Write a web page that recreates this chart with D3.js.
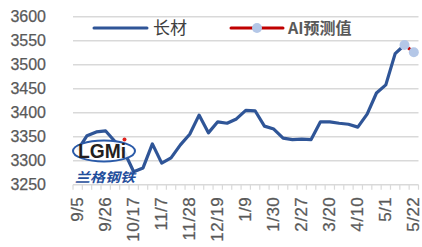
<!DOCTYPE html>
<html>
<head>
<meta charset="utf-8">
<script src="https://cdn.jsdelivr.net/npm/d3@7"></script>
<style>
  body { margin: 0; background: #fff; }
  svg { display: block; }
</style>
</head>
<body>
<div id="chart"></div>
<script>
// weekly dates (one week skipped around the spring festival)
var dates = ["9/5","9/12","9/19","9/26","10/3","10/10","10/17","10/24","10/31","11/7",
  "11/14","11/21","11/28","12/5","12/12","12/19","12/26","1/2","1/9","1/16",
  "1/23","1/30","2/13","2/20","2/27","3/6","3/13","3/20","3/27","4/3",
  "4/10","4/17","4/24","5/1","5/8","5/15","5/22"];

var longSteel = [3322,3352,3360,3362,3340,3318,3277,3285,3335,3295,
  3306,3333,3355,3395,3358,3381,3378,3387,3405,3404,
  3372,3366,3347,3344,3345,3344,3381,3381,3378,3376,
  3370,3397,3441,3458,3523,3541];

var aiDates = ["5/15","5/22"];
var aiValues = [3541,3526];

var yTicks = [3250,3300,3350,3400,3450,3500,3550,3600];
var labelEvery = 3;

var width = 422, height = 247;
var margin = {top: 16.7, right: 3.5, bottom: 62.3, left: 73};

var svg = d3.select("#chart").append("svg")
    .attr("width", width)
    .attr("height", height);

var x = d3.scaleBand()
    .domain(dates)
    .range([margin.left, width - margin.right])
    .padding(0);

var y = d3.scaleLinear()
    .domain([3250, 3600])
    .range([height - margin.bottom, margin.top]);

var cx = function(d) { return x(d) + x.bandwidth() / 2; };

// gridlines
svg.append("g")
    .selectAll("line")
    .data(yTicks.slice(1))
    .join("line")
    .attr("x1", margin.left)
    .attr("x2", width - margin.right)
    .attr("y1", function(d) { return y(d); })
    .attr("y2", function(d) { return y(d); })
    .attr("stroke", "#d9d9d9")
    .attr("stroke-width", 1.5);

// y labels
svg.append("g")
    .selectAll("text")
    .data(yTicks)
    .join("text")
    .attr("x", 46)
    .attr("y", function(d) { return y(d); })
    .attr("dy", "0.36em")
    .attr("text-anchor", "end")
    .attr("font-family", "Liberation Sans, Arial, sans-serif")
    .attr("font-size", "16px")
    .attr("fill", "#595959")
    .attr("stroke", "#595959")
    .attr("stroke-width", 0.25)
    .text(function(d) { return d; });

// x axis: line + tick marks between categories
var axisY = y(3250);
svg.append("line")
    .attr("x1", margin.left)
    .attr("x2", width - margin.right)
    .attr("y1", axisY)
    .attr("y2", axisY)
    .attr("stroke", "#d9d9d9")
    .attr("stroke-width", 1.5);

var bounds = dates.map(function(d) { return x(d); }).concat([x(dates[dates.length - 1]) + x.bandwidth()]);
svg.append("g")
    .selectAll("line")
    .data(bounds)
    .join("line")
    .attr("x1", function(d) { return d; })
    .attr("x2", function(d) { return d; })
    .attr("y1", axisY)
    .attr("y2", axisY + 5)
    .attr("stroke", "#d9d9d9")
    .attr("stroke-width", 1.2);

svg.append("g")
    .selectAll("text")
    .data(dates.filter(function(d, i) { return i % labelEvery === 0; }))
    .join("text")
    .attr("transform", function(d) { return "translate(" + (cx(d) + 5) + "," + (axisY + 12) + ") rotate(-90)"; })
    .attr("text-anchor", "end")
    .attr("font-family", "Liberation Sans, Arial, sans-serif")
    .attr("font-size", "17px")
    .attr("letter-spacing", "0.5px")
    .attr("fill", "#595959")
    .attr("stroke", "#595959")
    .attr("stroke-width", 0.25)
    .text(function(d) { return d; });

// long steel line
var line = d3.line()
    .x(function(d) { return cx(d[0]); })
    .y(function(d) { return y(d[1]); });

svg.append("path")
    .datum(longSteel.map(function(v, i) { return [dates[i], v]; }))
    .attr("d", line)
    .attr("fill", "none")
    .attr("stroke", "#2f5597")
    .attr("stroke-width", 3.2)
    .attr("stroke-linejoin", "round");

// AI prediction
var aiData = aiValues.map(function(v, i) { return [aiDates[i], v]; });
svg.append("path")
    .datum(aiData)
    .attr("d", line)
    .attr("fill", "none")
    .attr("stroke", "#c00000")
    .attr("stroke-width", 3);

svg.append("g")
    .selectAll("circle")
    .data(aiData)
    .join("circle")
    .attr("cx", function(d) { return cx(d[0]); })
    .attr("cy", function(d) { return y(d[1]); })
    .attr("r", 5)
    .attr("fill", "#b4c7e7");

// legend
var legend = svg.append("g");
legend.append("line")
    .attr("x1", 94).attr("x2", 147).attr("y1", 28).attr("y2", 28)
    .attr("stroke", "#2f5597").attr("stroke-width", 3).attr("stroke-linecap", "round");
legend.append("text")
    .attr("x", 153).attr("y", 34)
    .attr("font-family", "Noto Sans CJK SC, sans-serif")
    .attr("font-size", "17px")
    .attr("fill", "#404040")
    .text("长材");
legend.append("line")
    .attr("x1", 231).attr("x2", 283).attr("y1", 28).attr("y2", 28)
    .attr("stroke", "#c00000").attr("stroke-width", 3).attr("stroke-linecap", "round");
legend.append("circle")
    .attr("cx", 257).attr("cy", 28).attr("r", 5)
    .attr("fill", "#b4c7e7");
legend.append("text")
    .attr("x", 288).attr("y", 34)
    .attr("font-family", "Noto Sans CJK SC, sans-serif")
    .attr("font-size", "16px")
    .attr("font-weight", "bold")
    .attr("fill", "#595959")
    .text("AI预测值");

// watermark logo
var logo = svg.append("g");
logo.append("ellipse")
    .attr("cx", 104).attr("cy", 151).attr("rx", 31).attr("ry", 10.5)
    .attr("fill", "#ffffff").attr("fill-opacity", 0.9)
    .attr("stroke", "#2a5aa8").attr("stroke-width", 2);
logo.append("text")
    .attr("x", 78).attr("y", 158)
    .attr("textLength", 48)
    .attr("lengthAdjust", "spacingAndGlyphs")
    .attr("font-family", "Liberation Sans, Arial, sans-serif")
    .attr("font-size", "20px")
    .attr("font-weight", "bold")
    .attr("fill", "#231f20")
    .text("LGMi");
logo.append("circle")
    .attr("cx", 124.5).attr("cy", 139.5).attr("r", 2)
    .attr("fill", "#e0201b");
logo.append("text")
    .attr("x", 75).attr("y", 182)
    .attr("textLength", 60)
    .attr("lengthAdjust", "spacingAndGlyphs")
    .attr("font-family", "Noto Sans CJK SC, sans-serif")
    .attr("font-size", "13px")
    .attr("font-weight", "bold")
    .attr("font-style", "italic")
    .attr("fill", "#1f4e9c")
    .text("兰格钢铁");
</script>
</body>
</html>
